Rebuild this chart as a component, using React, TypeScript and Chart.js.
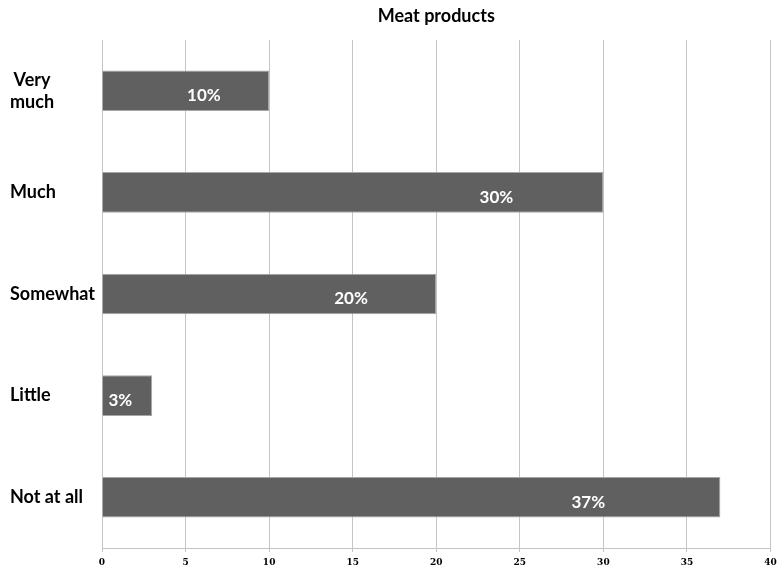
import React, { useEffect, useRef } from "react";
import { Chart, registerables } from "chart.js";
Chart.register(...registerables);

const TITLE = "Meat products";
const CATEGORIES = ["Very\nmuch", "Much", "Somewhat", "Little", "Not at all"];
const VALUES = [10, 30, 20, 3, 37];
const LABEL_AT = [6.1, 23.6, 14.9, 1.1, 29.1];
const X_MIN = 0;
const X_MAX = 40;
const X_STEP = 5;

export default function App() {
  const ref = useRef<HTMLCanvasElement>(null);
  useEffect(() => {
    document.body.style.margin = "0";
    const labelPlugin = {
      id: "barLabels",
      afterDatasetsDraw(chart: any) {
        const ctx = chart.ctx;
        const meta = chart.getDatasetMeta(0);
        const xs = chart.scales.x;
        ctx.save();
        ctx.fillStyle = "#ffffff";
        ctx.font = "bold 17px Lato";
        ctx.textAlign = "center";
        ctx.textBaseline = "middle";
        meta.data.forEach((bar: any, i: number) => {
          ctx.fillText(`${VALUES[i]}%`, xs.getPixelForValue(LABEL_AT[i]), bar.y + 5);
        });
        // category labels
        ctx.fillStyle = "#000000";
        ctx.font = "bold 18px Lato";
        const lineH = 22;
        const left = 10;
        meta.data.forEach((bar: any, i: number) => {
          const lines = CATEGORIES[i].split("\n");
          const w = Math.max(...lines.map((l) => ctx.measureText(l).width));
          const cx = left + w / 2;
          const y0 = bar.y - ((lines.length - 1) * lineH) / 2;
          lines.forEach((l, j) => ctx.fillText(l, cx, y0 + j * lineH));
        });
        ctx.restore();
      },
    };
    const chart = new Chart(ref.current as HTMLCanvasElement, {
      type: "bar",
      data: {
        labels: CATEGORIES,
        datasets: [
          {
            data: VALUES,
            backgroundColor: "#606060",
            borderColor: "#a6a6a6",
            borderWidth: 1,
            barPercentage: 0.4,
            categoryPercentage: 1,
          },
        ],
      },
      options: {
        indexAxis: "y",
        animation: false,
        responsive: false,
        layout: { padding: { left: 10, right: 7.5, top: 0, bottom: 0 } },
        plugins: {
          legend: { display: false },
          tooltip: { enabled: false },
          title: {
            display: true,
            text: TITLE,
            fullSize: false,
            color: "#000000",
            font: { family: "Lato", weight: "bold", size: 18 },
            padding: { top: 5, bottom: 13.4 },
          },
        },
        scales: {
          x: {
            min: X_MIN,
            max: X_MAX,
            ticks: {
              stepSize: X_STEP,
              color: "#000000",
              font: { family: "DejaVu Serif", weight: "bold", size: 9 },
              padding: 5,
              maxRotation: 0,
            },
            grid: { color: "#c4c4c4", tickLength: 4 },
            border: { color: "#c4c4c4" },
            afterFit: (s: any) => {
              s.height = 25;
              s.paddingLeft = 0;
              s.paddingRight = 0;
            },
          },
          y: {
            ticks: { display: false },
            grid: { display: false },
            border: { color: "#c4c4c4" },
            afterFit: (s: any) => {
              s.width = 92;
            },
          },
        },
      },
      plugins: [labelPlugin],
    } as any);
    return () => chart.destroy();
  }, []);
  return <canvas ref={ref} width={778} height={573} style={{ display: "block" }} />;
}
